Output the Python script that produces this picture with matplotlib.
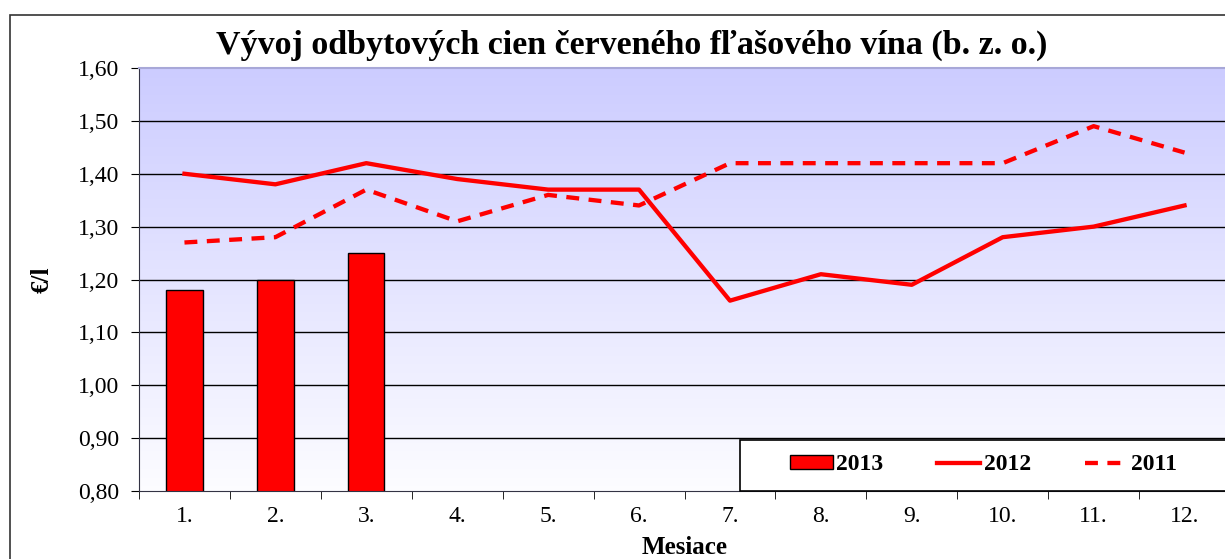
import numpy as np
import matplotlib.pyplot as plt
from matplotlib.ticker import FuncFormatter, FixedLocator
from matplotlib.patches import Rectangle

months = ['1.', '2.', '3.', '4.', '5.', '6.', '7.', '8.', '9.', '10.', '11.', '12.']
prices_2013 = [1.18, 1.20, 1.25]
prices_2012 = [1.40, 1.38, 1.42, 1.39, 1.37, 1.37, 1.16, 1.21, 1.19, 1.28, 1.30, 1.34]
prices_2011 = [1.27, 1.28, 1.37, 1.31, 1.36, 1.34, 1.42, 1.42, 1.42, 1.42, 1.49, 1.44]

plt.rcParams['font.family'] = ['Liberation Serif', 'DejaVu Serif']


def comma(v, pos):
    return f'{v:.2f}'.replace('.', ',')


def main():
    fig = plt.figure(figsize=(12.25, 5.59), dpi=100)
    fig.patches.append(Rectangle((10 / 1225, -0.1), 1.1, 1.1 - 15 / 559,
                                 transform=fig.transFigure, fill=False,
                                 edgecolor='#333333', linewidth=1.2))
    ax = fig.add_axes([139 / 1225, 68 / 559, 1091 / 1225, 423 / 559])

    x = np.arange(len(months))
    # gradient background
    grad = np.linspace(0, 1, 256).reshape(-1, 1)
    top = np.array([0.80, 0.80, 1.0])
    bottom = np.array([0.99, 0.99, 1.0])
    img = bottom + (top - bottom) * grad
    ax.imshow(img.reshape(256, 1, 3), extent=[-0.5, 11.5, 0.8, 1.6],
              origin='lower', aspect='auto', zorder=0)

    for v in np.arange(0.9, 1.55, 0.1):
        ax.axhline(v, color='black', linewidth=1.0, zorder=1)

    bars = ax.bar(x[:len(prices_2013)], prices_2013, width=0.4, bottom=0,
                  color='#ff0000', edgecolor='black', linewidth=1.0, zorder=2)
    l12, = ax.plot(x, prices_2012, color='#ff0000', linewidth=3.1, zorder=3)
    l11, = ax.plot(x, prices_2011, color='#ff0000', linewidth=3.1, dashes=(3, 2.2),
                   zorder=3)

    ax.set_xlim(-0.5, 11.5)
    ax.set_ylim(0.8, 1.6)
    ax.yaxis.set_major_locator(FixedLocator(np.arange(0.8, 1.65, 0.1)))
    ax.yaxis.set_major_formatter(FuncFormatter(comma))
    ax.set_xticks(x)
    ax.set_xticklabels(months)
    ax.set_xticks(np.arange(-0.5, 12, 1), minor=True)
    ax.tick_params(axis='x', which='major', length=0, pad=11, labelsize=17)
    ax.tick_params(axis='x', which='minor', length=6, direction='out')
    ax.tick_params(axis='y', length=6, direction='out', labelsize=17, pad=8)

    ax.spines['right'].set_visible(False)
    ax.spines['top'].set_color('#a8a8d8')
    ax.spines['top'].set_linewidth(1.5)
    ax.spines['left'].set_color('#333344')
    ax.spines['bottom'].set_color('#333344')

    ax.set_xlabel('Mesiace', fontsize=18, fontweight='bold', labelpad=6)
    ax.set_ylabel('€/l', fontsize=18, fontweight='bold', labelpad=18)
    fig.text(632 / 1225, 1 - 45 / 559, 'Vývoj odbytových cien červeného fľašového vína (b. z. o.)',
             ha='center', va='center', fontsize=24.5, fontweight='bold')

    # legend box
    ax.add_patch(Rectangle(((740 - 139) / 1091, 0), 0.6, 51 / 423,
                           transform=ax.transAxes, facecolor='white',
                           edgecolor='black', linewidth=1.2, zorder=4,
                           clip_on=False))
    leg = ax.legend([bars, l12, l11], ['2013', '2012', '2011'], ncol=3,
                    loc='center left',
                    bbox_to_anchor=((790 - 139) / 1091, 26 / 423),
                    frameon=False, prop={'weight': 'bold', 'size': 17},
                    handlelength=1.8, handleheight=0.5, handletextpad=0.15,
                    columnspacing=2.3, borderpad=0, borderaxespad=0)
    leg.set_zorder(5)

    fig.savefig('out.png')


if __name__ == '__main__':
    main()
